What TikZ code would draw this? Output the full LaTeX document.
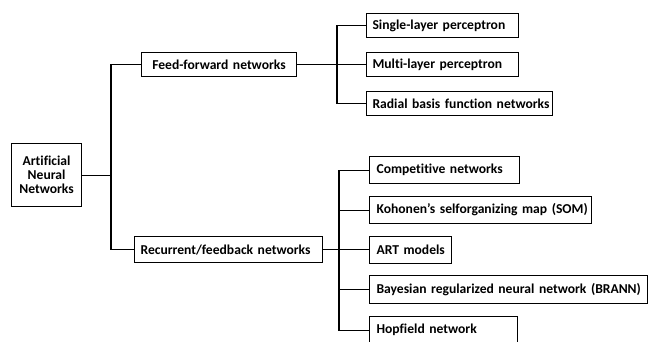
\documentclass[tikz,border=0pt]{standalone}
\usepackage{fontspec}
\setmainfont[Ligatures=NoCommon]{Carlito}
\begin{document}
\begin{tikzpicture}[x=1pt,y=-1pt,
  bx/.style={draw=black, line width=1.1pt, fill=white, anchor=north west, inner xsep=6pt, inner ysep=0pt,
    align=left, font=\fontsize{13.6}{14}\selectfont\bfseries},
  ln/.style={draw=black, line width=1.1pt}]
\useasboundingbox (0,0) rectangle (650,341);
\begin{scope}
\clip (0,0) rectangle (650,341);
\node[bx, text width=58pt, minimum height=63pt, align=center] (ann) at (11,143) {Artificial\\Neural\\Networks};
\node[bx, text width=143pt, minimum height=24pt, align=center] (ff) at (141,52) {\mbox{Feed-forward networks}};
\node[bx, text width=176pt, minimum height=26pt] (rc) at (134,236) {\mbox{Recurrent/feedback networks}};
\node[bx, text width=140pt, minimum height=24pt] (sl) at (366,13) {\mbox{Single-layer perceptron}};
\node[bx, text width=140pt, minimum height=24pt] (ml) at (366,52) {\mbox{Multi-layer perceptron}};
\node[bx, text width=174pt, minimum height=24pt] (rb) at (366,91) {\mbox{Radial basis function networks}};
\node[bx, inner xsep=7pt, text width=136pt, minimum height=27pt] (cp) at (369,156) {\mbox{Competitive networks}};
\node[bx, inner xsep=7pt, text width=208pt, minimum height=27pt] (kh) at (369,196) {\mbox{Kohonen’s selforganizing map (SOM)}};
\node[bx, inner xsep=7pt, text width=68pt, minimum height=27pt] (art) at (369,236) {\mbox{ART models}};
\node[bx, inner xsep=7pt, text width=264pt, minimum height=28pt] (by) at (369,275) {\mbox{Bayesian regularized neural network (BRANN)}};
\node[bx, inner xsep=7pt, text width=134pt, minimum height=27pt] (hf) at (369,316) {\mbox{Hopfield network}};
\end{scope}
\coordinate (trunk) at (111,0);
\draw[ln] (ann.east) -- (ann.east -| trunk);
\draw[ln] (ff.west) -| (trunk |- ff.west) |- (rc.west);
\draw[ln] (ff.east) -- (ml.west);
\draw[ln] (sl.west) -- ++(-29,0) |- (rb.west);
\draw[ln] (rc.east) -- (rc.east -| art.west);
\draw[ln] (cp.west) -- ++(-30,0) coordinate (t2) |- (hf.west);
\draw[ln] (kh.west) -- (kh.west -| t2);
\draw[ln] (by.west) -- (by.west -| t2);
\end{tikzpicture}
\end{document}
